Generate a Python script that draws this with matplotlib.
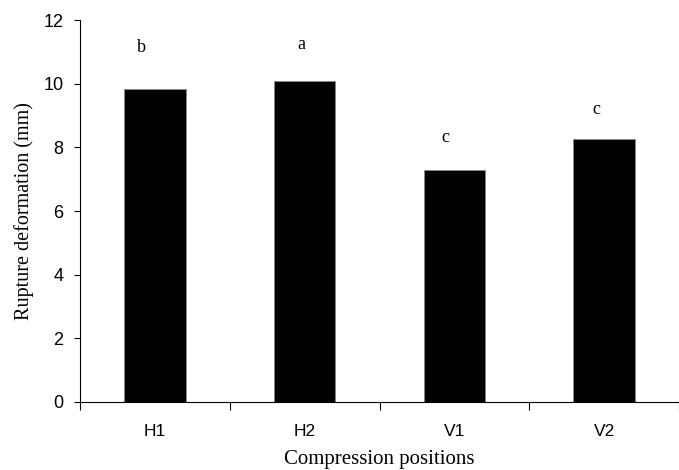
import matplotlib
matplotlib.use("Agg")
import matplotlib.pyplot as plt

positions = ["H1", "H2", "V1", "V2"]
deformation = [9.83, 10.08, 7.29, 8.26]
letters = ["b", "a", "c", "c"]
letter_y = [11.15, 11.25, 8.3, 9.2]


def main():
    fig = plt.figure(figsize=(6.79, 4.70), dpi=100)
    ax = fig.add_axes([0.118, 0.145, 0.882, 0.812])

    x = list(range(len(positions)))
    ax.bar(x, deformation, width=0.41, color="black", edgecolor="#888888", linewidth=0.6)

    # letters sit a little left of the bar centres in the original
    shift = [-0.09, -0.02, -0.06, -0.05]
    for xi, lab, ly, dx in zip(x, letters, letter_y, shift):
        ax.text(xi + dx, ly, lab, ha="center", va="center",
                family="Liberation Serif", fontsize=13)

    ax.set_xlim(-0.5, 3.5)
    ax.set_ylim(0, 12)
    ax.set_yticks(range(0, 13, 2))
    ax.set_xticks([i - 0.5 for i in range(len(positions) + 1)])
    ax.set_xticklabels([])
    ax.set_xticks(x, minor=True)
    ax.set_xticklabels(positions, minor=True)
    ax.tick_params(axis="x", which="minor", length=0, pad=16,
                   labelsize=12.5, labelfontfamily="Liberation Sans")
    ax.tick_params(axis="x", which="major", length=6, direction="out", width=0.8)
    ax.tick_params(axis="y", length=4, width=0.8, labelsize=13, pad=8,
                   labelfontfamily="Liberation Sans")

    ax.spines["top"].set_visible(False)
    ax.spines["right"].set_visible(False)
    ax.spines["left"].set_linewidth(0.8)
    ax.spines["bottom"].set_linewidth(0.8)

    ax.set_ylabel("Rupture deformation (mm)", family="Liberation Serif", fontsize=14.5, labelpad=7)
    ax.set_xlabel("Compression positions", family="Liberation Serif", fontsize=15, labelpad=8)

    fig.savefig("out.png", dpi=100)


if __name__ == "__main__":
    main()
